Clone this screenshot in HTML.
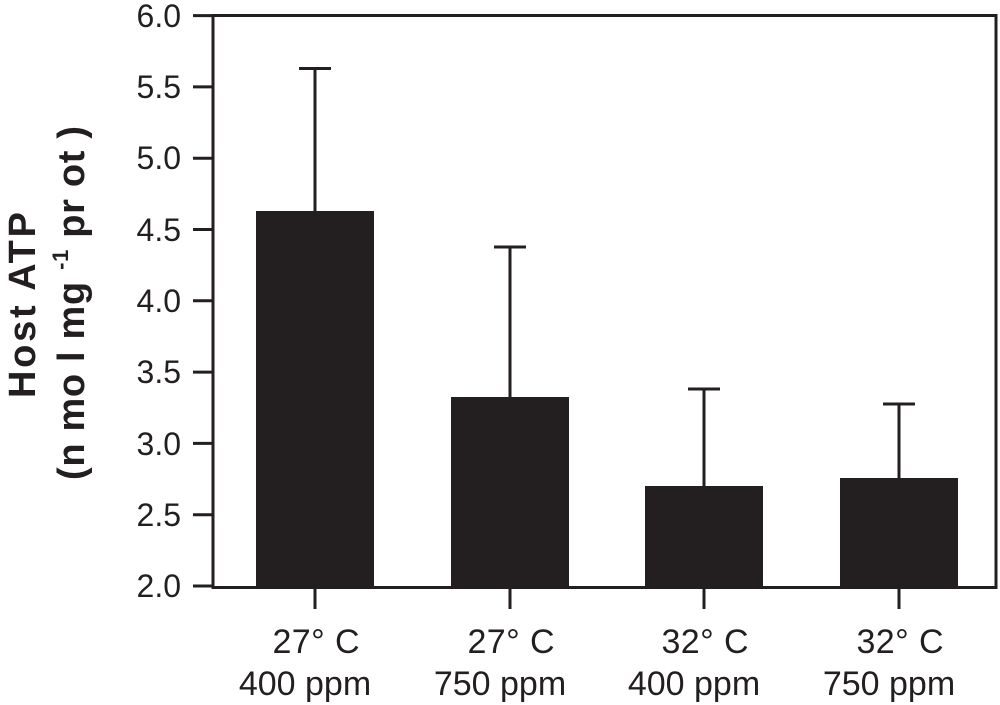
<!DOCTYPE html>
<html><head><meta charset="utf-8"><style>
html,body{margin:0;padding:0;background:#fff}
svg{display:block}
text{font-family:"Liberation Sans",Arial,sans-serif;fill:#231f20}
</style></head><body>
<svg width="1000" height="705" viewBox="0 0 1000 705" xmlns="http://www.w3.org/2000/svg">
<g fill="#231f20">
<rect x="256" y="211" width="118" height="377"/>
<rect x="451" y="397" width="118" height="191"/>
<rect x="645" y="486" width="118" height="102"/>
<rect x="840" y="478" width="118" height="110"/>
</g>
<g stroke="#231f20" stroke-width="3" fill="none">
<rect x="213" y="15.5" width="783" height="572"/>
<line x1="315" y1="68" x2="315" y2="211"/><line x1="299" y1="68.5" x2="331" y2="68.5"/>
<line x1="510" y1="247" x2="510" y2="397"/><line x1="494" y1="247" x2="526" y2="247"/>
<line x1="704" y1="389" x2="704" y2="486"/><line x1="688" y1="389" x2="720" y2="389"/>
<line x1="899" y1="404" x2="899" y2="478"/><line x1="883" y1="404" x2="915" y2="404"/>
<line x1="193" y1="15.6" x2="213" y2="15.6"/>
<line x1="193" y1="86.9" x2="213" y2="86.9"/>
<line x1="193" y1="158.2" x2="213" y2="158.2"/>
<line x1="193" y1="229.5" x2="213" y2="229.5"/>
<line x1="193" y1="300.8" x2="213" y2="300.8"/>
<line x1="193" y1="372.1" x2="213" y2="372.1"/>
<line x1="193" y1="443.4" x2="213" y2="443.4"/>
<line x1="193" y1="514.7" x2="213" y2="514.7"/>
<line x1="193" y1="586" x2="213" y2="586"/>
<line x1="315" y1="588" x2="315" y2="609"/>
<line x1="510" y1="588" x2="510" y2="609"/>
<line x1="704" y1="588" x2="704" y2="609"/>
<line x1="899" y1="588" x2="899" y2="609"/>
</g>
<g font-size="32" text-anchor="end">
<text x="181" y="27">6.0</text>
<text x="181" y="98">5.5</text>
<text x="181" y="169">5.0</text>
<text x="181" y="241">4.5</text>
<text x="181" y="312">4.0</text>
<text x="181" y="383">3.5</text>
<text x="181" y="455">3.0</text>
<text x="181" y="526">2.5</text>
<text x="181" y="597">2.0</text>
</g>
<g font-size="34" text-anchor="middle">
<text x="316" y="653" textLength="87">27° C</text><text x="305" y="695">400 ppm</text>
<text x="511" y="653" textLength="87">27° C</text><text x="500" y="695">750 ppm</text>
<text x="705" y="653" textLength="87">32° C</text><text x="694" y="695">400 ppm</text>
<text x="900" y="653" textLength="87">32° C</text><text x="889" y="695">750 ppm</text>
</g>
<g font-weight="bold" font-size="38">
<text transform="translate(35,398) rotate(-90)" textLength="186" lengthAdjust="spacing">Host  ATP</text>
<text transform="translate(84,480) rotate(-90)" textLength="354" lengthAdjust="spacing">(n mo l mg <tspan font-size="22" dy="-16">-1</tspan><tspan dy="16"> pr ot )</tspan></text>
</g>
</svg>
</body></html>
